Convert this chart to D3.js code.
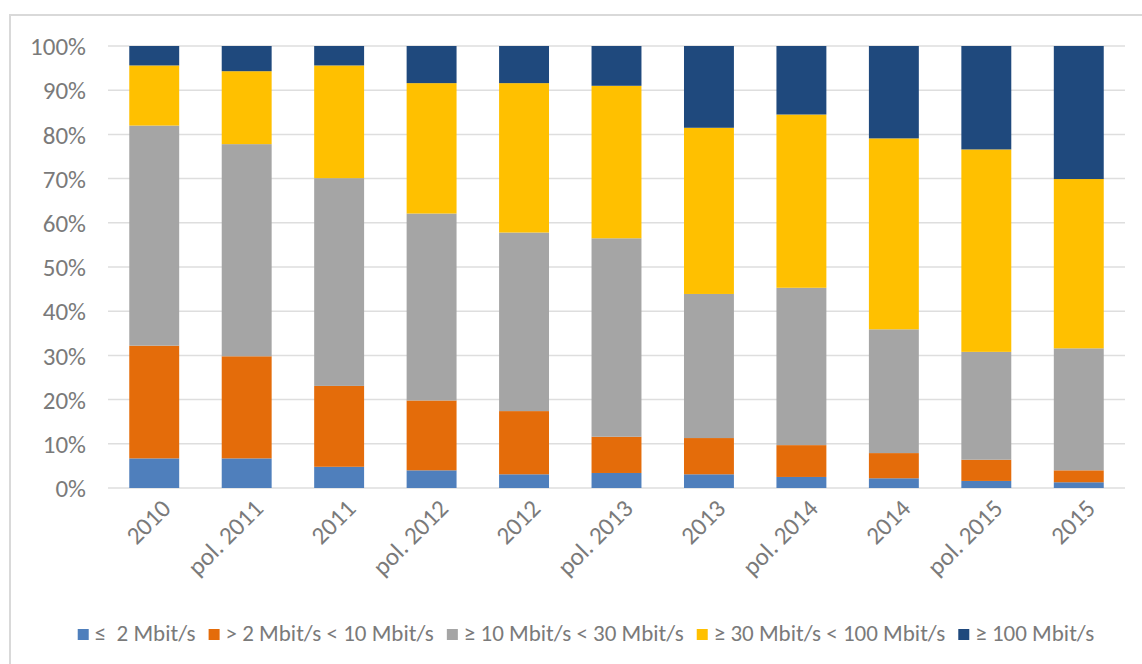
<!DOCTYPE html>
<html>
<head>
<meta charset="utf-8">
<script src="https://cdn.jsdelivr.net/npm/d3@7"></script>
<style>
  body { margin: 0; background: #fff; }
  text { font-family: Carlito, Calibri, Lato, sans-serif; }
</style>
</head>
<body>
<div id="container"></div>
<script>
const width = 1142, height = 664;

// categories (x axis)
const periods = ["2010", "pol. 2011", "2011", "pol. 2012", "2012", "pol. 2013",
  "2013", "pol. 2014", "2014", "pol. 2015", "2015"];

// shares per speed class, in %
const upTo2 =      [6.7, 6.7, 4.8, 4.0, 3.1, 3.4, 3.1, 2.5, 2.2, 1.6, 1.3];
const from2to10 =  [25.5, 23.1, 18.3, 15.8, 14.3, 8.2, 8.2, 7.2, 5.7, 4.8, 2.7];
const from10to30 = [49.8, 48.0, 47.0, 42.3, 40.4, 44.9, 32.6, 35.6, 28.0, 24.4, 27.6];
const from30to100 = [13.6, 16.5, 25.5, 29.5, 33.8, 34.5, 37.6, 39.2, 43.2, 45.8, 38.3];
const over100 =    [4.4, 5.7, 4.4, 8.4, 8.4, 9.0, 18.5, 15.5, 20.9, 23.4, 30.1];

const seriesNames = ["≤  2 Mbit/s", "> 2 Mbit/s < 10 Mbit/s", "≥ 10 Mbit/s < 30 Mbit/s",
  "≥ 30 Mbit/s < 100 Mbit/s", "≥ 100 Mbit/s"];
const colors = ["#4f7fbc", "#e46c0a", "#a5a5a5", "#ffc000", "#1f497d"];
const yTicks = [0, 10, 20, 30, 40, 50, 60, 70, 80, 90, 100];

const allSeries = [upTo2, from2to10, from10to30, from30to100, over100];
const rows = periods.map((p, i) => {
  const r = { period: p };
  const total = d3.sum(allSeries, s => s[i]);
  seriesNames.forEach((n, k) => r[n] = allSeries[k][i] / total);
  return r;
});

const svg = d3.select("#container").append("svg")
  .attr("width", width)
  .attr("height", height);

// chart frame
svg.append("rect")
  .attr("x", 10).attr("y", 15)
  .attr("width", 1150).attr("height", 700)
  .attr("fill", "none")
  .attr("stroke", "#d9d9d9")
  .attr("stroke-width", 2);

/* SCALES */
const xScale = d3.scaleBand()
  .domain(periods)
  .range([108, 1125])
  .paddingInner(0.46)
  .paddingOuter(0.23);

const yScale = d3.scaleLinear()
  .domain([0, 1])
  .range([488, 46]);

// gridlines
svg.append("g")
  .selectAll("line")
  .data(yTicks)
  .join("line")
  .attr("x1", 108).attr("x2", 1125)
  .attr("y1", d => yScale(d / 100)).attr("y2", d => yScale(d / 100))
  .attr("stroke", "#dedede")
  .attr("stroke-width", 1.5);

/* BARS */
const stacked = d3.stack().keys(seriesNames)(rows);

svg.append("g")
  .selectAll("g")
  .data(stacked)
  .join("g")
  .attr("fill", (d, i) => colors[i])
  .selectAll("rect")
  .data(d => d)
  .join("rect")
  .attr("x", d => xScale(d.data.period))
  .attr("y", d => yScale(d[1]))
  .attr("width", xScale.bandwidth())
  .attr("height", d => yScale(d[0]) - yScale(d[1]));

/* AXES */
const yAxis = d3.axisLeft(yScale)
  .tickValues(yTicks.map(d => d / 100))
  .tickFormat(d3.format(".0%"))
  .tickSize(0)
  .tickPadding(0);

svg.append("g")
  .attr("transform", "translate(86,0)")
  .call(yAxis)
  .call(g => g.select(".domain").remove())
  .selectAll("text")
  .attr("fill", "#7a7a7a")
  .style("font-size", "25px")
  .attr("dy", "0.35em");

const xAxis = d3.axisBottom(xScale).tickSize(0).tickPadding(0);

svg.append("g")
  .attr("transform", "translate(0,488)")
  .call(xAxis)
  .call(g => g.select(".domain").remove())
  .selectAll("text")
  .attr("fill", "#7a7a7a")
  .style("font-size", "25px")
  .attr("text-anchor", "end")
  .attr("dy", 0)
  .attr("y", 0)
  .attr("transform", "translate(18,22) rotate(-45)");

/* LEGEND */
const legend = svg.append("g");
let lx = 0;
seriesNames.forEach((n, i) => {
  const item = legend.append("g").attr("transform", `translate(${lx},0)`);
  item.append("rect")
    .attr("x", 0).attr("y", -12)
    .attr("width", 11).attr("height", 11)
    .attr("fill", colors[i]);
  const t = item.append("text")
    .attr("x", 17).attr("y", 0)
    .attr("fill", "#7a7a7a")
    .style("font-size", "23px")
    .style("white-space", "pre")
    .text(n);
  lx += 17 + t.node().getComputedTextLength() + 13;
});
const legendWidth = lx - 13;
legend.attr("transform", `translate(${586 - legendWidth / 2},641)`);
</script>
</body>
</html>
